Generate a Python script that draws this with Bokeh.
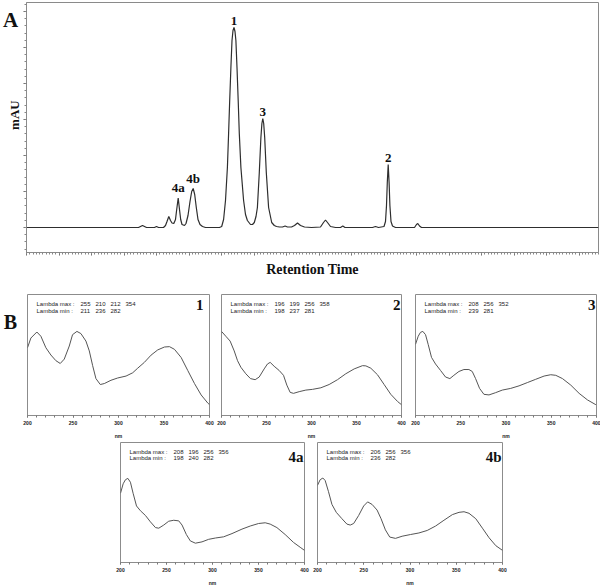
import math
from bokeh.plotting import figure
from bokeh.layouts import column, row
from bokeh.models import Range1d, SingleIntervalTicker, Spacer, CustomLabelingPolicy
from bokeh.core.properties import value
from bokeh.embed import file_html
from bokeh.resources import INLINE

# ---------------- data: chromatogram (A) ----------------
rt = [0, 11.2, 11.6, 12.0, 12.8, 13.0, 13.2,
      13.7, 13.9, 14.05, 14.23, 14.4, 14.55, 14.73,
      14.9, 15.02, 15.17, 15.3, 15.42, 15.55, 15.8,
      15.95, 16.15, 16.35, 16.52, 16.67, 16.82, 16.98, 17.15, 17.35, 17.6, 17.9,
      19.3, 19.52, 19.71, 19.90, 20.09, 20.21, 20.32, 20.44, 20.55, 20.65, 20.75,
      20.85, 20.94, 21.05, 21.17, 21.28, 21.44, 21.71, 21.9, 22.09, 22.4,
      22.6, 22.78, 22.95, 23.09, 23.28, 23.44, 23.54, 23.63, 23.72, 23.82, 23.98,
      24.21, 24.52, 24.78,
      25.0, 25.3, 25.6, 25.86, 26.1, 26.5, 26.8, 27.1, 27.4, 27.8, 28.5, 29.4,
      29.7, 29.9, 30.1, 30.4, 30.9, 31.4, 31.63, 31.85, 34.6, 34.9, 35.2,
      35.75, 35.9, 36.0, 36.08, 36.17, 36.26, 36.34, 36.45, 36.6, 36.9,
      38.8, 39.0, 39.13, 39.3, 39.5, 57.2]
mau = [0, 0, 2, 0, 0, 1, 0,
       0, 2, 6, 11, 7, 4.5, 4,
       8, 18, 29.5, 18, 8, 3, 2,
       4, 12, 26, 36, 39, 33, 20, 8, 3, 1, 0,
       0, 1, 8, 27, 60, 94, 127, 160, 187, 197, 200,
       196, 187, 160, 127, 94, 60, 27, 13, 7, 3,
       3, 5, 11, 20, 55, 90, 104, 109, 104, 90, 55,
       20, 5, 2,
       1, 0.5, 0.5, 1.5, 0.5, 0.5, 2, 4.5, 2, 0.5, 0, 0.5,
       5, 7.5, 5, 1, 0, 0, 1.5, 0, 0, 1, 0,
       1, 6, 22, 45, 63, 45, 22, 6, 1.5, 0,
       0, 3, 4, 1.5, 0, 0]
peak_names = ["4a", "4b", "1", "3", "2"]
peak_rt = [15.17, 16.67, 20.75, 23.63, 36.17]
peak_mau = [29.5, 39, 200, 109, 63]

# ---------------- data: UV spectra (B) ----------------
wl_1 = [200, 203.7, 210.3, 214.7, 220.2, 225.7, 231.2, 236.0, 240.4, 245.9, 249.5, 254.3,
        258.7, 264.2, 267.9, 271.6, 275.2, 280.0, 284.4, 291.7, 299.1, 308.3, 315.6, 321.1,
        328.4, 335.8, 343.1, 350.5, 356.0, 361.5, 368.8, 376.1, 383.5, 390.8, 398.2, 400]
ab_1 = [56, 64, 69, 65.5, 56, 50, 45.3, 43, 46.6, 57.4, 66.8, 69.5,
        67.7, 61.5, 53.4, 41.2, 30.5, 25.6, 26.4, 29.1, 31, 32.6, 35.3, 39.1,
        43.9, 49.9, 54.2, 56.6, 56.9, 54.7, 48, 37.2, 26.4, 17, 10.2, 9]
lmax_1 = [255, 210, 212, 354]
lmin_1 = [211, 236, 282]

wl_2 = [200, 204.8, 209.6, 214.1, 217.8, 221.5, 227.0, 232.2, 237.4, 241.9, 247.4, 251.1,
        254.1, 258.5, 264.1, 268.9, 272.6, 276.3, 280.0, 286.3, 293.7, 301.1, 310.4, 319.6,
        328.9, 338.1, 347.4, 356.7, 360.4, 365.9, 373.3, 380.7, 388.1, 395.6, 400]
ab_2 = [69.5, 65.5, 61.5, 53.4, 45.3, 39.9, 34.5, 30.5, 29.6, 31.8, 38.5, 42.6,
        43.9, 40.7, 37.2, 33.2, 25.1, 19.1, 18.3, 19.7, 21.0, 21.6, 22.9, 25.6,
        29.6, 34.5, 38.5, 41.2, 41.0, 39.1, 33.7, 25.6, 17.5, 11.6, 8.9]
lmax_2 = [196, 199, 256, 358]
lmin_2 = [198, 237, 281]

wl_3 = [200, 203.0, 205.5, 208.1, 211.1, 214.0, 217.7, 222.1, 227.7, 233.2, 238.0, 242.4,
        248.0, 253.5, 259.0, 262.7, 266.4, 270.8, 275.6, 281.2, 288.6, 295.9, 305.2, 314.4,
        323.6, 332.8, 342.1, 349.4, 355.0, 362.4, 371.6, 380.8, 390.0, 399.3]
ab_3 = [58.8, 65.5, 68.7, 69.5, 66.8, 58.8, 48.0, 42.6, 37.2, 31.8, 30.5, 33.2,
        36.4, 38.0, 38.0, 36.4, 30.5, 22.4, 17.5, 17.0, 18.9, 21.0, 22.4, 24.5,
        27.2, 29.9, 32.6, 33.7, 33.2, 30.5, 25.1, 18.3, 12.9, 8.9]
lmax_3 = [208, 256, 352]
lmin_3 = [239, 281]

wl_4a = [200, 202.9, 205.4, 208.0, 210.8, 213.7, 217.4, 221.7, 227.1, 232.5, 238.0, 241.6,
         247.0, 252.4, 257.9, 263.3, 266.9, 271.6, 275.9, 281.4, 288.6, 295.8, 303.1, 312.1,
         321.2, 332.0, 341.0, 350.1, 357.3, 362.7, 370.0, 379.0, 388.1, 395.3, 400]
ab_4a = [57.7, 65.6, 69.0, 70.1, 66.9, 57.7, 47.1, 43.1, 39.2, 33.9, 29.1, 28.6,
         31.2, 34.4, 35.2, 34.7, 31.2, 23.3, 18.0, 16.1, 17.2, 19.3, 20.4, 21.4,
         24.1, 27.8, 30.4, 32.5, 33.1, 32.0, 29.1, 23.3, 16.7, 12.7, 10.1]
lmax_4a = [208, 196, 256, 356]
lmin_4a = [198, 240, 282]

wl_4b = [200, 202.9, 205.8, 208.3, 211.9, 215.6, 220.3, 226.4, 231.8, 235.4, 239.1, 244.5,
         249.9, 254.2, 259.0, 264.4, 268.7, 273.4, 278.1, 284.3, 291.5, 300.5, 309.6, 318.6,
         327.7, 336.7, 345.8, 353.0, 358.4, 363.8, 371.1, 378.3, 385.5, 392.8, 400]
ab_4b = [64.3, 69.0, 70.4, 68.3, 59.0, 48.4, 41.8, 36.5, 32.0, 31.2, 32.5, 39.2,
         47.1, 50.5, 48.4, 43.7, 36.5, 27.2, 21.2, 20.1, 21.9, 23.3, 24.6, 26.7,
         30.4, 35.2, 39.9, 41.8, 42.3, 41.0, 36.5, 28.6, 20.6, 14.0, 10.1]
lmax_4b = [206, 256, 356]
lmin_4b = [236, 282]

SERIF = "Liberation Serif"
SANS = "Liberation Sans"
INK = "#111111"

HIDE_LABELS = """
for (let i = 0; i < indices.size; i++) { indices.unset(i) }
return indices
"""


def pad_fig(width, height):
    """A blank strip (no axes) used to hold side texts such as panel letters."""
    p = figure(width=width, height=height, output_backend="svg",
               toolbar_location=None, x_range=Range1d(0, width),
               y_range=Range1d(0, height), x_axis_location=None,
               y_axis_location=None, min_border_left=0, min_border_right=0,
               min_border_top=0, min_border_bottom=0)
    p.outline_line_color = None
    p.grid.visible = False
    return p


# ---------------- panel A ----------------
STRIP_A = 21
A_W, A_H = 579, 282
A_L, A_R, A_T, A_B = 5, 2, 2, 30
XR = (0, 57.2)
YR = (-25, 225)
pa = figure(width=A_W, height=A_H, output_backend="svg", toolbar_location=None,
            x_range=Range1d(*XR), y_range=Range1d(*YR),
            min_border_left=A_L, min_border_right=A_R, min_border_top=A_T,
            min_border_bottom=A_B)
pa.grid.visible = False
pa.outline_line_color = "#8a8a8a"
pa.line(rt, mau, line_color="#2e2e2e", line_width=1.2)
pa.text(x=peak_rt, y=peak_mau, text=peak_names, text_align="center",
        text_baseline="bottom", y_offset=-3, text_font=value(SERIF),
        text_font_style="bold", text_font_size="13px", text_color=INK)

for ax in (pa.xaxis[0], pa.yaxis[0]):
    ax.axis_line_color = "#8a8a8a"
    ax.major_tick_line_color = "#666666"
    ax.minor_tick_line_color = "#888888"
    ax.major_tick_in = 0
    ax.minor_tick_in = 0
    ax.major_tick_out = 3
    ax.minor_tick_out = 2
    ax.major_label_text_font_size = "0px"
    ax.major_label_standoff = 0
    ax.major_label_policy = CustomLabelingPolicy(code=HIDE_LABELS)
pa.xaxis.ticker = SingleIntervalTicker(interval=3.25, num_minor_ticks=10)
pa.yaxis.ticker = SingleIntervalTicker(interval=36, num_minor_ticks=5)
pa.xaxis.axis_label = "Retention Time"
pa.xaxis.axis_label_text_font = SERIF
pa.xaxis.axis_label_text_font_style = "bold"
pa.xaxis.axis_label_text_color = INK
pa.xaxis.axis_label_text_font_size = "14px"
pa.xaxis.axis_label_standoff = 6

sa = pad_fig(STRIP_A, A_H)
sa.text(x=[10], y=[A_H - 20], text=["A"], text_align="center",
        text_baseline="middle", text_font=value(SERIF), text_font_style="bold",
        text_font_size="21px", text_color=INK)
sa.text(x=[14], y=[A_H - 127], text=["mAU"], angle=[math.pi / 2],
        text_align="center", text_baseline="middle", text_font=value(SERIF),
        text_font_style="bold", text_font_size="13px", text_color=INK)


# ---------------- panel B ----------------
def spectrum(wl, ab, name, lmax, lmin, width, height, left, right, top, bottom,
             name_pad, name_dy, min_dy):
    fw = width - left - right
    fh = height - top - bottom
    p = figure(width=width, height=height, output_backend="svg",
               toolbar_location=None, x_range=Range1d(200, 400),
               y_range=Range1d(0, 100), y_axis_location=None,
               min_border_left=left, min_border_right=right,
               min_border_top=top, min_border_bottom=bottom)
    p.grid.visible = False
    p.outline_line_color = "#8c8c8c"
    p.line(wl, ab, line_color="#555555", line_width=1)

    def dx(px):
        return 200 + px * 200 / fw

    def dy(px):
        return 100 - px * 100 / fh

    p.text(x=[dx(9), dx(9)], y=[dy(10), dy(min_dy)],
           text=["Lambda max :", "Lambda min  :"], text_align="left",
           text_baseline="middle", text_font=value(SANS), text_font_size="6px",
           text_color="#222222")
    p.text(x=[dx(53 + 15 * i) for i in range(len(lmax))], y=[dy(10)] * len(lmax),
           text=[str(v) for v in lmax], text_align="left", text_baseline="middle",
           text_font=value(SANS), text_font_size="6px", text_color="#222222")
    p.text(x=[dx(53 + 15 * i) for i in range(len(lmin))], y=[dy(min_dy)] * len(lmin),
           text=[str(v) for v in lmin], text_align="left", text_baseline="middle",
           text_font=value(SANS), text_font_size="6px", text_color="#222222")
    p.text(x=[dx(fw - name_pad)], y=[dy(name_dy)], text=[name], text_align="right",
           text_baseline="middle", text_font=value(SERIF), text_font_style="bold",
           text_font_size="15px", text_color=INK)

    ax = p.xaxis[0]
    ax.ticker = SingleIntervalTicker(interval=50, num_minor_ticks=5)
    ax.axis_line_color = "#8c8c8c"
    ax.major_tick_line_color = "#777777"
    ax.minor_tick_line_color = "#777777"
    ax.major_tick_in = 0
    ax.minor_tick_in = 0
    ax.major_tick_out = 2
    ax.minor_tick_out = 2
    ax.major_label_text_font_size = "5px"
    ax.major_label_text_font = SANS
    ax.major_label_text_font_style = "bold"
    ax.major_label_text_color = "#222222"
    ax.major_label_standoff = 3
    ax.axis_label = "nm"
    ax.axis_label_text_font = SANS
    ax.axis_label_text_font_size = "5px"
    ax.axis_label_text_font_style = "bold"
    ax.axis_label_text_color = "#222222"
    ax.axis_label_standoff = 5
    return p


R2_H, R3_H = 159, 147
STRIP_B = 21
f1 = spectrum(wl_1, ab_1, "1", lmax_1, lmin_1, 194, R2_H, 6, 6, 12, 23, 6, 10.5, 17)
f2 = spectrum(wl_2, ab_2, "2", lmax_2, lmin_2, 193, R2_H, 6, 7, 12, 23, 1, 10.5, 17)
f3 = spectrum(wl_3, ab_3, "3", lmax_3, lmin_3, 192, R2_H, 7, 4, 12, 23, 1, 10.5, 17)
f4a = spectrum(wl_4a, ab_4a, "4a", lmax_4a, lmin_4a, 196, R3_H, 6, 6, 1, 20, 1, 15, 16.5)
f4b = spectrum(wl_4b, ab_4b, "4b", lmax_4b, lmin_4b, 197, R3_H, 7, 5, 1, 20, 1, 15, 16.5)

sb = pad_fig(STRIP_B, R2_H)
sb.text(x=[10], y=[R2_H - 36], text=["B"], text_align="center",
        text_baseline="middle", text_font=value(SERIF), text_font_style="bold",
        text_font_size="20px", text_color=INK)

layout = column(row(sa, pa),
                row(sb, f1, f2, f3),
                row(Spacer(width=114, height=R3_H), f4a, f4b))

open("out.html", "w").write(file_html(layout, INLINE))
